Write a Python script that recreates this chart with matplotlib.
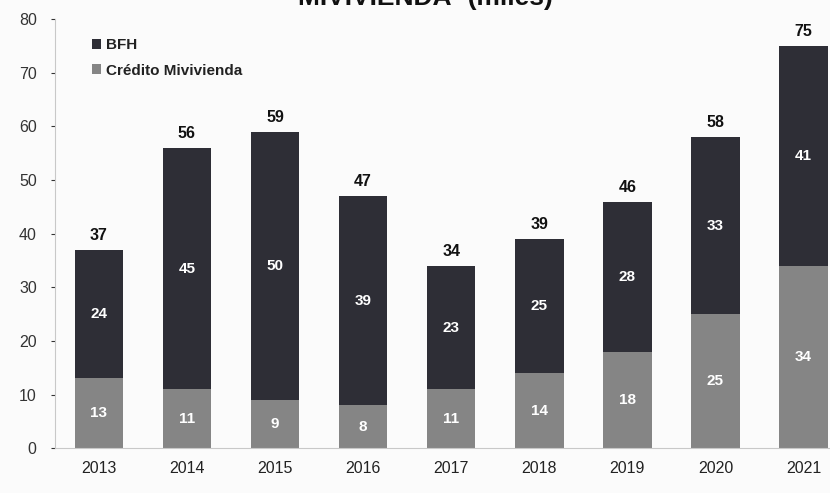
import numpy as np
import matplotlib.pyplot as plt

plt.rcParams['font.family'] = ['Liberation Sans', 'DejaVu Sans']

years = ['2013', '2014', '2015', '2016', '2017', '2018', '2019', '2020', '2021']
credito = [13, 11, 9, 8, 11, 14, 18, 25, 34]
bfh = [24, 45, 50, 39, 23, 25, 28, 33, 41]

dark = '#2e2e36'
grey = '#858585'

fig = plt.figure(figsize=(8.3, 4.93), dpi=100)
fig.patch.set_facecolor('#fbfbfb')
ax = fig.add_axes([0.066, 0.091, 0.934, 0.870])
ax.set_facecolor('#fbfbfb')

x = np.arange(len(years))
totals = np.array(credito) + np.array(bfh)

b1 = ax.bar(x, credito, width=0.55, color=grey, label='Crédito Mivivienda')
b2 = ax.bar(x, bfh, width=0.55, bottom=credito, color=dark, label='BFH')

# segment values in white, totals on top
for i in range(len(years)):
    ax.text(x[i], credito[i] / 2, str(credito[i]), ha='center', va='center',
            color='white', fontsize=11, fontweight='bold')
    ax.text(x[i], credito[i] + bfh[i] / 2, str(bfh[i]), ha='center', va='center',
            color='white', fontsize=11, fontweight='bold')
    ax.text(x[i], totals[i] + 1.3, str(totals[i]), ha='center', va='bottom',
            color='#111111', fontsize=11.5, fontweight='bold')

ax.set_ylim(0, 80)
ax.set_xlim(-0.5, 8.3)
ax.set_yticks(range(0, 81, 10))
ax.set_xticks(x)
ax.set_xticklabels(years)
ax.tick_params(axis='y', labelsize=11.5, colors='#333333', length=3, pad=10)
ax.tick_params(axis='x', labelsize=11.5, colors='#222222', length=0, pad=9)

for s in ['top', 'right']:
    ax.spines[s].set_visible(False)
ax.spines['left'].set_color('#c8c8c8')
ax.spines['bottom'].set_color('#c8c8c8')

leg = ax.legend([b2, b1], ['BFH', 'Crédito Mivivienda'], loc='upper left',
                bbox_to_anchor=(0.04, 0.97), frameon=False, fontsize=11,
                handlelength=0.6, handleheight=0.6, handletextpad=0.3,
                labelspacing=0.75, borderaxespad=0)
for t in leg.get_texts():
    t.set_fontweight('bold')
    t.set_color('#222222')

# title sits mostly above the top edge of the page
fig.text(0.512, 1.005, 'MIVIVIENDA¹ (miles)', ha='center', va='center',
         fontsize=19, fontweight='bold', color='#111111')

fig.savefig('out.png', dpi=100, facecolor=fig.get_facecolor())
